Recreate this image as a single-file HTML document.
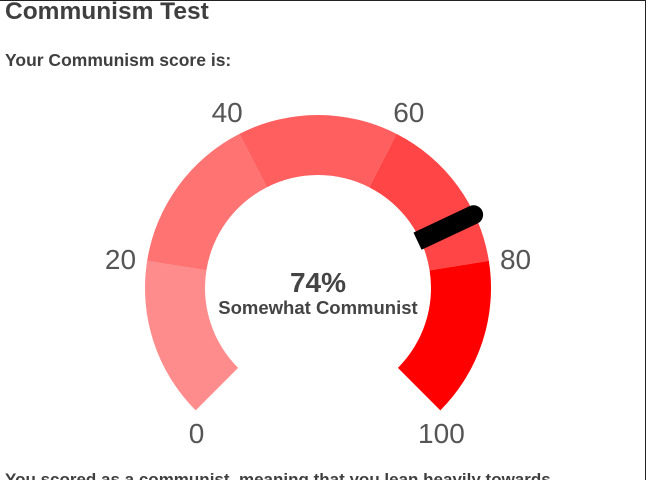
<!DOCTYPE html>
<html><head><meta charset="utf-8"><style>
html,body{margin:0;width:648px;height:480px;overflow:hidden;background:#fff;font-family:"Liberation Sans",sans-serif;}
body{position:relative;}
#frame{position:absolute;left:0;top:0;width:646px;height:480px;border-top:1px solid #222;border-right:1px solid #222;box-sizing:border-box;}
h1{position:absolute;left:5px;top:-2px;margin:0;font-size:24.5px;color:#3f3f3f;font-weight:bold;}
#sub{position:absolute;left:5px;top:50px;font-size:17.5px;font-weight:bold;color:#3f3f3f;}
#foot{position:absolute;left:5px;top:470px;font-size:17px;font-weight:bold;color:#3f3f3f;white-space:nowrap;}
</style></head><body>
<div id="frame"></div>
<h1>Communism Test</h1>
<div id="sub">Your Communism score is:</div>
<svg id="g" width="648" height="480" style="position:absolute;left:0;top:0"></svg>
<div id="foot">You scored as a communist, meaning that you lean heavily towards...</div>
<script>
const segStarts=[0,20,40,60,80];
const segEnds=[20,40,60,80,100];
const segColors=['#ff8c8c','#ff7373','#ff5f5f','#ff4545','#ff0000'];
const tickValues=[0,20,40,60,80,100];
const tickLabels=['0','20','40','60','80','100'];
const score=74;
const scoreLabel='Somewhat Communist';
const NS='http://www.w3.org/2000/svg',svg=document.getElementById('g');
const cx=318,cy=288,R=173,r=113;
function ang(v){return (225-270*v/100)*Math.PI/180;}
function pt(v,rad){const a=ang(v);return [cx+rad*Math.cos(a),cy-rad*Math.sin(a)];}
function mk(t,at){const e=document.createElementNS(NS,t);for(const k in at)e.setAttribute(k,at[k]);svg.appendChild(e);return e;}
segStarts.forEach((s,i)=>{const e0=segEnds[i];const a=pt(s,R),b=pt(e0,R),c=pt(e0,r),d=pt(s,r);
const large=(e0-s)*2.7>180?1:0;
const p=mk('path',{d:`M${a[0]},${a[1]}A${R},${R} 0 ${large} 1 ${b[0]},${b[1]}L${c[0]},${c[1]}A${r},${r} 0 ${large} 0 ${d[0]},${d[1]}Z`,fill:segColors[i]});

});
tickValues.forEach((v,i)=>{const p=pt(v,200);const t=mk('text',{x:p[0]+(v==0?20:v==100?-18:0),y:p[1]+(v==0||v==100?6:5),'text-anchor':'middle','dominant-baseline':'middle','font-size':28,fill:'#555'});t.textContent=tickLabels[i];

});
const n1=pt(score,110),n2=pt(score,172);
const nd=mk('line',{x1:n1[0],y1:n1[1],x2:n2[0],y2:n2[1],stroke:'#000','stroke-width':19});


const cap=mk('circle',{cx:n2[0],cy:n2[1],r:9.5,fill:'#000'});


const v=mk('text',{x:cx,y:292,'text-anchor':'middle','font-size':28,'font-weight':'bold',fill:'#444'});v.textContent=score+'%';


const l=mk('text',{x:cx,y:314,'text-anchor':'middle','font-size':18.5,'font-weight':'bold',fill:'#444'});l.textContent=scoreLabel;


</script>
</body></html>
